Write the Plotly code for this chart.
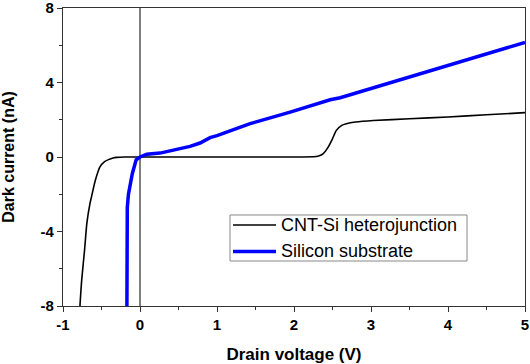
import plotly.graph_objects as go

cnt_x = [-0.78, -0.757, -0.72, -0.69, -0.65, -0.63, -0.58, -0.52, -0.46, -0.41, -0.35, -0.3, -0.2, 0,
         0.5, 1, 1.5, 2, 2.25, 2.32, 2.38, 2.44, 2.49, 2.55, 2.62, 2.68, 2.8, 3.03, 3.5, 4, 4.5, 5]
cnt_y = [-8, -6.6, -5, -3.55, -2.5, -2.14, -1.25, -0.53, -0.25, -0.14, -0.05, -0.02, 0, 0,
         0, 0, 0, 0, 0.01, 0.05, 0.18, 0.5, 0.89, 1.43, 1.7, 1.79, 1.88, 1.96, 2.05, 2.15, 2.27, 2.38]

si_x = [-0.17, -0.165, -0.15, -0.1, -0.05, -0.03, 0, 0.09, 0.26, 0.52, 0.65, 0.78, 0.91, 1.0,
        1.43, 1.95, 2.47, 2.6, 3.03, 3.64, 4.0, 4.42, 4.63, 5.0]
si_y = [-8, -2.7, -2.0, -0.9, -0.15, -0.08, 0.0, 0.15, 0.21, 0.45, 0.57, 0.75, 1.04, 1.15,
        1.79, 2.41, 3.07, 3.18, 3.72, 4.46, 4.9, 5.44, 5.7, 6.15]

series_names = ["CNT-Si heterojunction", "Silicon substrate"]
series_colors = ["black", "#0000ff"]
series_widths = [1.6, 3.5]

x_ticks = [-1, 0, 1, 2, 3, 4, 5]
y_ticks = [-8, -4, 0, 4, 8]

FONT = "Arial, Liberation Sans, sans-serif"

fig = go.Figure()
fig.add_trace(go.Scatter(x=cnt_x, y=cnt_y, mode="lines", name=series_names[0],
                         line=dict(color=series_colors[0], width=series_widths[0], shape="spline", smoothing=0.6)))
fig.add_trace(go.Scatter(x=si_x, y=si_y, mode="lines", name=series_names[1],
                         line=dict(color=series_colors[1], width=series_widths[1])))

fig.add_shape(type="line", x0=0, x1=0, y0=-8, y1=8, xref="x", yref="y",
              line=dict(color="black", width=1), layer="below")

# custom legend box (paper coordinates)
fig.add_shape(type="rect", xref="paper", yref="paper", x0=0.3615, x1=0.8745, y0=0.151, y1=0.3054,
              line=dict(color="#888888", width=1), fillcolor="white", layer="above")
leg_y = [0.272, 0.183]
for name, col, w, yy in zip(series_names, series_colors, series_widths, leg_y):
    fig.add_shape(type="line", xref="paper", yref="paper", x0=0.368, x1=0.461, y0=yy, y1=yy,
                  line=dict(color=col, width=w), layer="above")
    fig.add_annotation(xref="paper", yref="paper", x=0.4675, y=yy, text=name, showarrow=False,
                       xanchor="left", yanchor="middle",
                       font=dict(family=FONT, size=18, color="black"))

axis_common = dict(showgrid=False, zeroline=False, showline=True, linecolor="#333333",
                   linewidth=1.2, mirror=True, ticks="outside", ticklen=5, tickwidth=1,
                   tickcolor="#333333", automargin=False, ticklabeloverflow="allow",
                   tickfont=dict(family=FONT, size=15, color="black", weight="bold"),
                   minor=dict(ticks="outside", ticklen=3, tickcolor="#333333"))

fig.update_xaxes(range=[-1, 5], tickvals=x_ticks, ticktext=[str(v) for v in x_ticks],
                 title=dict(text="Drain voltage (V)", font=dict(family=FONT, size=17, color="black", weight="bold"),
                            standoff=16),
                 minor_dtick=0.5, **axis_common)
fig.update_yaxes(range=[-8, 8], tickvals=y_ticks, ticktext=[str(v) for v in y_ticks],
                 title=dict(text="Dark current (nA)", font=dict(family=FONT, size=16, color="black", weight="bold"),
                            standoff=23),
                 minor_dtick=2, **axis_common)

fig.update_layout(
    width=530, height=364,
    margin=dict(l=63, r=5, t=8, b=58),
    plot_bgcolor="white", paper_bgcolor="white",
    font=dict(family=FONT, color="black"),
    showlegend=False,
)

fig.write_html("out.html", config={"displayModeBar": False},
               post_script="document.body.style.margin='0px';document.body.style.overflow='hidden';")
